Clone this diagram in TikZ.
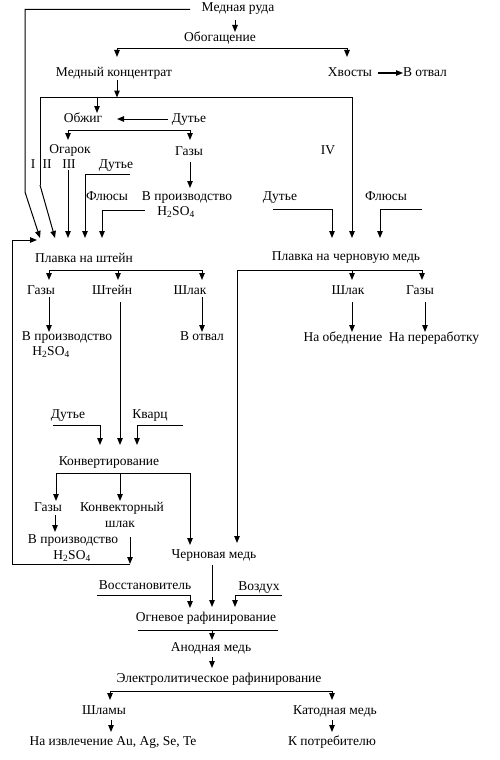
\documentclass[tikz,border=0pt]{standalone}
\usepackage{fontspec}
\setmainfont{Liberation Serif}
\usetikzlibrary{arrows.meta}
\begin{document}
\begin{tikzpicture}[x=1pt,y=-1pt,
  lbl/.style={font=\fontsize{13.5}{16}\selectfont, inner sep=0pt, text height=9.5pt, text depth=3pt},
  ln/.style={line width=1pt},
  arr/.style={line width=1pt,-{Triangle[length=7pt,width=5.5pt]}}]
\useasboundingbox (0,0) rectangle (499,760);
% nodes
\node[lbl] (ore) at (238,8) {Медная руда};
\node[lbl] (enr) at (220,38) {Обогащение};
\node[lbl] (conc) at (114,73) {Медный концентрат};
\node[lbl] (tail) at (350,73) {Хвосты};
\node[lbl] (dumpa) at (425,73) {В отвал};
\node[lbl] (roast) at (83,119) {Обжиг};
\node[lbl] (blasta) at (189,119) {Дутье};
\node[lbl] (cinder) at (70,150) {Огарок};
\node[lbl] (gasa) at (189,152) {Газы};
\node[lbl] (labI) at (33,165) {I};
\node[lbl] (labII) at (47,165) {II};
\node[lbl] (labIII) at (69,165) {III};
\node[lbl] (labIV) at (328,151) {IV};
\node[lbl] (blastb) at (116,165) {Дутье};
\node[lbl] (fluxa) at (107,197) {Флюсы};
\node[lbl] (proda) at (187,197) {В производство};
\node[lbl] (acida) at (176,212) {H\textsubscript{2}SO\textsubscript{4}};
\node[lbl] (blastd) at (280,197) {Дутье};
\node[lbl] (fluxb) at (386,197) {Флюсы};
\node[lbl] (matte) at (84,259) {Плавка на штейн};
\node[lbl] (black) at (346,257) {Плавка на черновую медь};
\node[lbl] (gasb) at (41,291) {Газы};
\node[lbl] (stein) at (112,291) {Штейн};
\node[lbl] (slaga) at (190,291) {Шлак};
\node[lbl] (slagb) at (348,291) {Шлак};
\node[lbl] (gasc) at (420,291) {Газы};
\node[lbl] (prodb) at (67,337) {В производство};
\node[lbl] (acidb) at (51,352) {H\textsubscript{2}SO\textsubscript{4}};
\node[lbl] (dumpb) at (202,337) {В отвал};
\node[lbl] (deplete) at (343,338) {На обеднение};
\node[lbl] (reproc) at (434,338) {На переработку};
\node[lbl] (blastc) at (68,415) {Дутье};
\node[lbl] (quartz) at (150,415) {Кварц};
\node[lbl] (conv) at (109,462) {Конвертирование};
\node[lbl] (gasd) at (48,508) {Газы};
\node[lbl] (cslag) at (122,508) {Конвекторный};
\node[lbl] (cslagb) at (120,524) {шлак};
\node[lbl] (prodc) at (73,540) {В производство};
\node[lbl] (acidc) at (72,556) {H\textsubscript{2}SO\textsubscript{4}};
\node[lbl] (blister) at (214,555) {Черновая медь};
\node[lbl] (reduct) at (145,586) {Восстановитель};
\node[lbl] (air) at (259,587) {Воздух};
\node[lbl] (fire) at (206,618) {Огневое рафинирование};
\node[lbl] (anode) at (211,648) {Анодная медь};
\node[lbl] (electro) at (219,679) {Электролитическое рафинирование};
\node[lbl] (slimes) at (104,711) {Шламы};
\node[lbl] (cathode) at (335,711) {Катодная медь};
\node[lbl] (extract) at (113,742) {На извлечение Au, Ag, Se, Te};
\node[lbl] (consumer) at (332,742) {К потребителю};
% connectors
\draw[arr] (190,9.5) -- (25,9.5) -- (25,192) -- (40,238);
\draw[arr] (235,20) -- (235,32);
\draw[ln] (117,48.5) -- (347,48.5);
\draw[arr] (117,48.5) -- (117,57);
\draw[arr] (347,48.5) -- (347,57);
\draw[arr] (378,73) -- (403,73);
\draw[arr] (117,80) -- (117,97.5);
\draw[arr] (40,185) -- (40,97) -- (352,97) -- (352,238);
\draw[arr] (40,185) -- (55,238);
\draw[arr] (97,97) -- (97,113);
\draw[arr] (168,119) -- (117,119);
\draw[ln] (68,130) -- (190,130);
\draw[arr] (68,130) -- (68,140);
\draw[arr] (190,130) -- (190,140);
\draw[arr] (190,162) -- (190,188);
\draw[arr] (68,170) -- (68,238);
\draw[arr] (130,174) -- (85,174) -- (85,238);
\draw[arr] (145,210) -- (102,210) -- (102,238);
\draw[arr] (130,537) -- (130,564);
\draw[arr] (130,564) -- (12,564) -- (12,240) -- (37,240);
\draw[ln] (49,270) -- (202,270);
\draw[arr] (49,270) -- (49,280);
\draw[arr] (118,270) -- (118,280);
\draw[arr] (202,270) -- (202,280);
\draw[arr] (49,297) -- (49,332);
\draw[arr] (202,297) -- (202,332);
\draw[arr] (120,302) -- (120,445);
\draw[arr] (273,209) -- (332,209) -- (332,238);
\draw[arr] (422,209) -- (380,209) -- (380,238);
\draw[arr] (422,270) -- (237,270) -- (237,543);
\draw[arr] (422,270) -- (422,280);
\draw[arr] (352,270) -- (352,280);
\draw[arr] (352,302) -- (352,332);
\draw[arr] (425,302) -- (425,332);
\draw[arr] (53,425) -- (100,425) -- (100,445);
\draw[arr] (183,425) -- (137,425) -- (137,445);
\draw[ln] (56,473) -- (190,473);
\draw[arr] (56,473) -- (56,501);
\draw[arr] (120,473) -- (120,501);
\draw[arr] (190,473) -- (190,545);
\draw[arr] (55,515) -- (55,532);
\draw[arr] (212,565) -- (212,607);
\draw[arr] (97,595) -- (190,595) -- (190,608);
\draw[arr] (282,595) -- (235,595) -- (235,607);
\draw[ln] (138,630) -- (278,630);
\draw[arr] (212,630) -- (212,640);
\draw[arr] (212,657) -- (212,668);
\draw[ln] (110,691) -- (332,691);
\draw[arr] (110,691) -- (110,700);
\draw[arr] (332,691) -- (332,700);
\draw[arr] (111,720) -- (111,732);
\draw[arr] (332,720) -- (332,732);
\end{tikzpicture}
\end{document}
